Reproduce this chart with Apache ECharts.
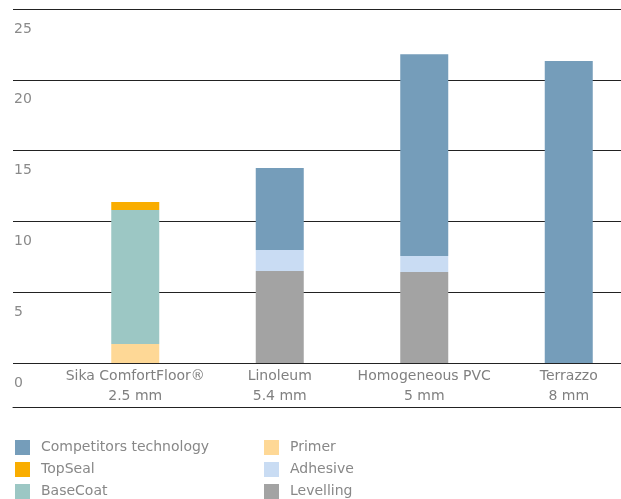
<!DOCTYPE html>
<html>
<head>
<meta charset="utf-8">
<script src="https://cdn.jsdelivr.net/npm/echarts@6/dist/echarts.min.js"></script>
<style>
html,body{margin:0;padding:0;background:#fff;}
#chart{width:621px;height:499px;}
</style>
</head>
<body>
<div id="chart"></div>
<script>
var categories = ['Sika ComfortFloor®\n2.5 mm', 'Linoleum\n5.4 mm', 'Homogeneous PVC\n5 mm', 'Terrazzo\n8 mm'];
var levelling   = [null, 6.5, 6.43, null];
var primer      = [1.35, null, null, null];
var adhesive    = [null, 1.48, 1.13, null];
var baseCoat    = [9.45, null, null, null];
var topSeal     = [0.57, null, null, null];
var competitors = [null, 5.79, 14.25, 21.33];
var yTicks = [0, 5, 10, 15, 20, 25];

var FONT = 'DejaVu Sans';
var chart = echarts.init(document.getElementById('chart'));

function bar(name, data, color) {
  return {
    name: name, type: 'bar', stack: 'total', data: data,
    xAxisIndex: 0, yAxisIndex: 0, barWidth: 48,
    itemStyle: { color: color }, emphasis: { disabled: true },
    animation: false
  };
}

var legendText = { fontFamily: FONT, fontSize: 14, color: '#888888', padding: [0, 0, 0, 6] };

chart.setOption({
  animation: false,
  backgroundColor: '#ffffff',
  grid: [
    { left: 63, top: 9, width: 578, height: 354, outerBoundsMode: 'none', containLabel: false },
    { left: 13, top: 9, right: 0, height: 354, outerBoundsMode: 'none', containLabel: false }
  ],
  legend: [
    {
      orient: 'vertical', left: 15, top: 440, height: 120, padding: 0, itemWidth: 15, itemHeight: 15, itemGap: 7,
      icon: 'rect', data: ['Competitors technology', 'TopSeal', 'BaseCoat'],
      textStyle: legendText
    },
    {
      orient: 'vertical', left: 264, top: 440, height: 120, padding: 0, itemWidth: 15, itemHeight: 15, itemGap: 7,
      icon: 'rect', data: ['Primer', 'Adhesive', 'Levelling'],
      textStyle: legendText
    }
  ],
  xAxis: [
    {
      type: 'category', gridIndex: 0, data: categories,
      axisLine: { show: false }, axisTick: { show: false },
      axisLabel: { fontFamily: FONT, fontSize: 14, color: '#808080', lineHeight: 20, margin: 3, interval: 0 }
    },
    {
      type: 'value', gridIndex: 1, position: 'bottom', offset: 44, min: 0, max: 1,
      axisLine: { show: true, onZero: false, lineStyle: { color: '#222222', width: 1 } },
      axisTick: { show: false }, axisLabel: { show: false }, splitLine: { show: false }
    }
  ],
  yAxis: [
    {
      type: 'value', gridIndex: 0, min: 0, max: 25, interval: 5, show: false
    },
    {
      type: 'value', gridIndex: 1, min: 0, max: 25, interval: 5,
      axisLine: { show: false }, axisTick: { show: false },
      splitLine: { show: true, lineStyle: { color: '#222222', width: 1 } },
      axisLabel: {
        inside: true, margin: 1, verticalAlign: 'top', padding: [13, 0, 0, 0],
        fontFamily: FONT, fontSize: 14, color: '#8a8a8a',
        formatter: function (v) { return yTicks.indexOf(v) >= 0 ? String(v) : ''; }
      }
    }
  ],
  series: [
    bar('Levelling', levelling, '#a3a3a3'),
    bar('Primer', primer, '#fed896'),
    bar('Adhesive', adhesive, '#c9dcf3'),
    bar('BaseCoat', baseCoat, '#9cc7c4'),
    bar('TopSeal', topSeal, '#f9ad00'),
    bar('Competitors technology', competitors, '#759dba')
  ]
});
</script>
</body>
</html>
